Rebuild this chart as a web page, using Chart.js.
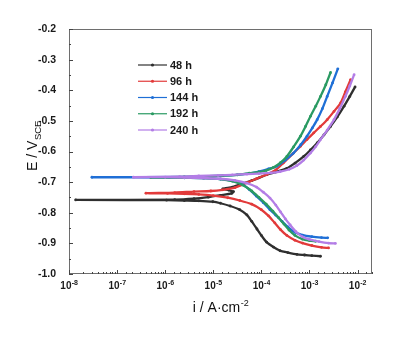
<!DOCTYPE html>
<html>
<head>
<meta charset="utf-8">
<script src="https://cdn.jsdelivr.net/npm/chart.js@4.4.1/dist/chart.umd.min.js"></script>
<style>
  html, body { margin: 0; padding: 0; background: #ffffff; }
  #plot { display: block; }
</style>
</head>
<body>
<canvas id="plot" width="397" height="338"></canvas>
<script>
// Tafel polarization curves: current density (A/cm²) vs potential (V vs SCE)
const seriesNames = ['48 h', '96 h', '144 h', '192 h', '240 h'];

const current48 = [1.70e-3, 1.12e-3, 7.9e-4, 5.5e-4, 3.55e-4, 2.45e-4, 1.78e-4, 1.29e-4, 1.0e-4, 8.1e-5, 6.3e-5, 5.0e-5, 3.55e-5, 2.24e-5, 1.41e-5, 9.8e-6, 5.0e-6, 2.5e-6, 1.07e-6, 1.38e-8,
  1.58e-6, 3.98e-6, 7.9e-6, 1.41e-5, 2.4e-5, 2.63e-5, 2.09e-5, 1.58e-5, 2.5e-5, 3.98e-5, 6.3e-5, 8.9e-5, 1.32e-4, 2.0e-4, 3.39e-4, 5.0e-4, 7.6e-4, 1.05e-3, 1.45e-3, 2.0e-3, 2.75e-3, 3.8e-3, 5.25e-3, 6.9e-3, 8.9e-3];
const potential48 = [-0.942, -0.940, -0.938, -0.936, -0.930, -0.924, -0.912, -0.896, -0.874, -0.853, -0.828, -0.807, -0.790, -0.778, -0.769, -0.764, -0.761, -0.760, -0.759, -0.758,
  -0.757, -0.754, -0.749, -0.743, -0.737, -0.731, -0.726, -0.722, -0.716, -0.706, -0.695, -0.686, -0.675, -0.667, -0.655, -0.638, -0.616, -0.595, -0.572, -0.546, -0.518, -0.487, -0.452, -0.420, -0.389];

const current96 = [2.5e-3, 1.78e-3, 1.12e-3, 7.2e-4, 5.0e-4, 3.39e-4, 2.5e-4, 1.9e-4, 1.41e-4, 1.0e-4, 6.3e-5, 3.55e-5, 2.0e-5, 1.0e-5, 5.0e-6, 2.5e-6, 1.12e-6, 3.98e-7,
  1.58e-6, 3.98e-6, 8.9e-6, 1.58e-5, 2.82e-5, 5.0e-5, 7.9e-5, 1.26e-4, 2.0e-4, 2.88e-4, 4.47e-4, 6.5e-4, 8.9e-4, 1.23e-3, 1.70e-3, 2.34e-3, 3.24e-3, 4.47e-3, 5.6e-3, 7.2e-3];
const potential96 = [-0.915, -0.913, -0.907, -0.899, -0.890, -0.874, -0.855, -0.833, -0.810, -0.790, -0.772, -0.760, -0.751, -0.744, -0.740, -0.738, -0.737, -0.736,
  -0.734, -0.731, -0.729, -0.725, -0.718, -0.702, -0.689, -0.676, -0.660, -0.637, -0.608, -0.583, -0.561, -0.539, -0.518, -0.496, -0.469, -0.441, -0.405, -0.365];

const current144 = [2.4e-3, 1.78e-3, 1.12e-3, 7.2e-4, 5.0e-4, 3.55e-4, 2.69e-4, 2.0e-4, 1.51e-4, 1.10e-4, 7.9e-5, 5.6e-5, 3.98e-5, 2.5e-5, 1.41e-5, 6.3e-6, 2.5e-6, 1.23e-6, 3.0e-8,
  2.5e-6, 6.3e-6, 1.58e-5, 3.16e-5, 5.6e-5, 8.9e-5, 1.41e-4, 2.09e-4, 3.16e-4, 4.68e-4, 6.6e-4, 8.9e-4, 1.15e-3, 1.45e-3, 1.86e-3, 2.34e-3, 3.02e-3, 3.89e-3];
const potential144 = [-0.882, -0.881, -0.878, -0.873, -0.864, -0.846, -0.828, -0.808, -0.790, -0.767, -0.746, -0.724, -0.706, -0.696, -0.690, -0.687, -0.686, -0.685, -0.684,
  -0.683, -0.681, -0.679, -0.676, -0.672, -0.666, -0.657, -0.648, -0.628, -0.605, -0.578, -0.550, -0.523, -0.496, -0.460, -0.420, -0.376, -0.330];

const current192 = [1.35e-3, 1.0e-3, 7.1e-4, 5.0e-4, 3.8e-4, 2.95e-4, 2.29e-4, 1.74e-4, 1.26e-4, 8.9e-5, 6.3e-5, 4.17e-5, 2.5e-5, 1.41e-5, 6.3e-6, 2.5e-6, 1.0e-6, 5.0e-7,
  2.5e-6, 6.3e-6, 1.58e-5, 3.16e-5, 5.6e-5, 8.9e-5, 1.26e-4, 1.78e-4, 2.5e-4, 3.39e-4, 4.68e-4, 6.5e-4, 8.3e-4, 1.05e-3, 1.35e-3, 1.70e-3, 2.19e-3, 2.75e-3];
const potential192 = [-0.893, -0.891, -0.886, -0.874, -0.857, -0.837, -0.816, -0.795, -0.772, -0.750, -0.729, -0.710, -0.697, -0.690, -0.687, -0.686, -0.685, -0.685,
  -0.683, -0.681, -0.679, -0.676, -0.671, -0.667, -0.662, -0.652, -0.636, -0.616, -0.585, -0.550, -0.518, -0.485, -0.452, -0.420, -0.382, -0.342];

const current240 = [3.47e-3, 2.5e-3, 1.58e-3, 1.0e-3, 7.1e-4, 5.25e-4, 3.98e-4, 3.16e-4, 2.5e-4, 2.0e-4, 1.51e-4, 1.10e-4, 7.9e-5, 5.0e-5, 2.82e-5, 1.41e-5, 6.3e-6, 2.5e-6, 1.0e-6, 2.19e-7,
  2.0e-6, 5.0e-6, 1.26e-5, 2.5e-5, 5.0e-5, 8.9e-5, 1.58e-4, 2.45e-4, 3.8e-4, 5.5e-4, 7.6e-4, 1.05e-3, 1.35e-3, 1.70e-3, 2.34e-3, 3.24e-3, 4.27e-3, 5.6e-3, 6.9e-3, 8.5e-3];
const potential240 = [-0.900, -0.899, -0.894, -0.887, -0.878, -0.862, -0.840, -0.820, -0.797, -0.775, -0.752, -0.733, -0.716, -0.703, -0.694, -0.689, -0.687, -0.685, -0.684, -0.684,
  -0.682, -0.680, -0.678, -0.676, -0.674, -0.672, -0.670, -0.666, -0.658, -0.646, -0.628, -0.605, -0.584, -0.561, -0.530, -0.496, -0.460, -0.420, -0.386, -0.349];

// Axis tick labels (x: base and exponent of each decade)
const xTickValues = [1e-8, 1e-7, 1e-6, 1e-5, 1e-4, 1e-3, 1e-2];
const xTickExponents = ['-8', '-7', '-6', '-5', '-4', '-3', '-2'];
const yTickValues = [-1.0, -0.9, -0.8, -0.7, -0.6, -0.5, -0.4, -0.3, -0.2];
const yTickLabels = ['-1.0', '-0.9', '-0.8', '-0.7', '-0.6', '-0.5', '-0.4', '-0.3', '-0.2'];

const seriesColors = ['#2f2f2f', '#e23a3a', '#1f6fd6', '#2a9a62', '#b37de6'];
const FONT = "'Liberation Sans', Arial, sans-serif";

const seriesCurrent = [current48, current96, current144, current192, current240];
const seriesPotential = [potential48, potential96, potential144, potential192, potential240];

const datasets = seriesNames.map((name, k) => ({
  label: name,
  data: seriesCurrent[k].map((c, j) => ({ x: c, y: seriesPotential[k][j] })),
  showLine: true,
  borderColor: seriesColors[k],
  backgroundColor: seriesColors[k],
  borderWidth: 2.3,
  pointRadius: 1.4,
  pointBorderWidth: 0,
  pointHoverRadius: 0,
  tension: 0.25,
  order: seriesNames.length - k
}));

function decadeIndex(v) {
  return xTickValues.findIndex(t => Math.abs(Math.log10(t) - Math.log10(v)) < 1e-6);
}

// Plot frame, inward-pointing tick marks and decade labels of the current axis
const frameTicks = {
  id: 'frameTicks',
  afterDatasetsDraw(chart) {
    const { ctx, chartArea: a } = chart;
    const xs = chart.scales.x, ys = chart.scales.y;
    ctx.save();
    ctx.strokeStyle = '#6e6e6e';
    ctx.lineWidth = 1;
    ctx.strokeRect(Math.round(a.left) + 0.5, Math.round(a.top) + 0.5,
      Math.round(a.right - a.left) - 1, Math.round(a.bottom - a.top) - 1);
    ctx.strokeStyle = '#444';
    ctx.beginPath();
    xs.ticks.forEach(t => {
      const px = Math.round(xs.getPixelForValue(t.value)) + 0.5;
      const len = decadeIndex(t.value) >= 0 ? 4 : 2;
      ctx.moveTo(px, a.bottom);
      ctx.lineTo(px, a.bottom - len);
    });
    ys.ticks.forEach(t => {
      const py = Math.round(ys.getPixelForValue(t.value)) + 0.5;
      const major = yTickValues.some(v => Math.abs(v - t.value) < 1e-6);
      ctx.moveTo(a.left, py);
      ctx.lineTo(a.left + (major ? 4 : 2), py);
    });
    ctx.stroke();

    // decade labels written as 10 with a raised exponent
    ctx.fillStyle = '#1a1a1a';
    ctx.textBaseline = 'alphabetic';
    ctx.textAlign = 'left';
    xs.ticks.forEach(t => {
      const k = decadeIndex(t.value);
      if (k < 0) return;
      const px = xs.getPixelForValue(t.value);
      ctx.font = 'bold 10px ' + FONT;
      const wb = ctx.measureText('10').width;
      ctx.font = 'bold 7px ' + FONT;
      const we = ctx.measureText(xTickExponents[k]).width;
      const x0 = px - (wb + we) / 2;
      ctx.font = 'bold 10px ' + FONT;
      ctx.fillText('10', x0, 289);
      ctx.font = 'bold 7px ' + FONT;
      ctx.fillText(xTickExponents[k], x0 + wb + 0.3, 284.5);
    });
    ctx.restore();
  }
};

// Series key inside the plot
const seriesKey = {
  id: 'seriesKey',
  afterDraw(chart) {
    const { ctx } = chart;
    ctx.save();
    ctx.font = 'bold 11px ' + FONT;
    ctx.textBaseline = 'middle';
    ctx.textAlign = 'left';
    chart.data.datasets.forEach((ds, k) => {
      const y = 65 + k * 16.25;
      ctx.strokeStyle = ds.borderColor;
      ctx.lineWidth = 1.2;
      ctx.beginPath();
      ctx.moveTo(138, y);
      ctx.lineTo(167, y);
      ctx.stroke();
      ctx.fillStyle = ds.borderColor;
      ctx.beginPath();
      ctx.arc(152.5, y, 1.6, 0, Math.PI * 2);
      ctx.fill();
      ctx.fillStyle = '#1a1a1a';
      ctx.fillText(ds.label, 170, y + 0.5);
    });
    ctx.restore();
  }
};

// Axis titles with sub/superscripts
const axisTitles = {
  id: 'axisTitles',
  afterDraw(chart) {
    const { ctx, chartArea: a } = chart;
    ctx.save();
    ctx.fillStyle = '#111';
    ctx.textBaseline = 'alphabetic';
    ctx.textAlign = 'left';
    // x title
    const main = 'i / A\u00B7cm', sup = '-2';
    ctx.font = '14px ' + FONT;
    const w1 = ctx.measureText(main).width;
    ctx.font = '9px ' + FONT;
    const w2 = ctx.measureText(sup).width;
    const x0 = (a.left + a.right) / 2 - (w1 + w2) / 2;
    ctx.font = '14px ' + FONT;
    ctx.fillText(main, x0, 311.5);
    ctx.font = '9px ' + FONT;
    ctx.fillText(sup, x0 + w1 + 0.5, 305.5);
    // y title
    const yMain = 'E / V', ySub = 'SCE';
    ctx.font = '14px ' + FONT;
    const v1 = ctx.measureText(yMain).width;
    ctx.font = '9.5px ' + FONT;
    const v2 = ctx.measureText(ySub).width;
    ctx.translate(37, 146);
    ctx.rotate(-Math.PI / 2);
    const s0 = -(v1 + v2) / 2;
    ctx.font = '14px ' + FONT;
    ctx.fillText(yMain, s0, 0);
    ctx.font = '9.5px ' + FONT;
    ctx.fillText(ySub, s0 + v1 + 0.5, 3.5);
    ctx.restore();
  }
};

new Chart(document.getElementById('plot'), {
  type: 'scatter',
  data: { datasets },
  plugins: [frameTicks, seriesKey, axisTitles],
  options: {
    responsive: false,
    animation: false,
    devicePixelRatio: 1,
    layout: { padding: { left: 0, top: 29, right: 25, bottom: 0 } },
    plugins: { legend: { display: false }, tooltip: { enabled: false } },
    scales: {
      x: {
        type: 'logarithmic',
        min: 1e-8,
        max: 0.02,
        grid: { display: false },
        border: { display: false },
        afterFit(scale) { scale.height = 64; },
        ticks: {
          autoSkip: false,
          maxRotation: 0,
          // decade labels are drawn with raised exponents by the frameTicks plugin
          callback() { return ''; }
        }
      },
      y: {
        type: 'linear',
        min: -1.0,
        max: -0.2,
        grid: { display: false },
        border: { display: false },
        afterFit(scale) { scale.width = 69; },
        ticks: {
          stepSize: 0.05,
          autoSkip: false,
          padding: 5,
          color: '#1a1a1a',
          font: { family: FONT, size: 10.5, weight: 'bold' },
          callback(v) {
            const k = yTickValues.findIndex(t => Math.abs(t - v) < 1e-6);
            return k >= 0 ? yTickLabels[k] : '';
          }
        }
      }
    }
  }
});
</script>
</body>
</html>
